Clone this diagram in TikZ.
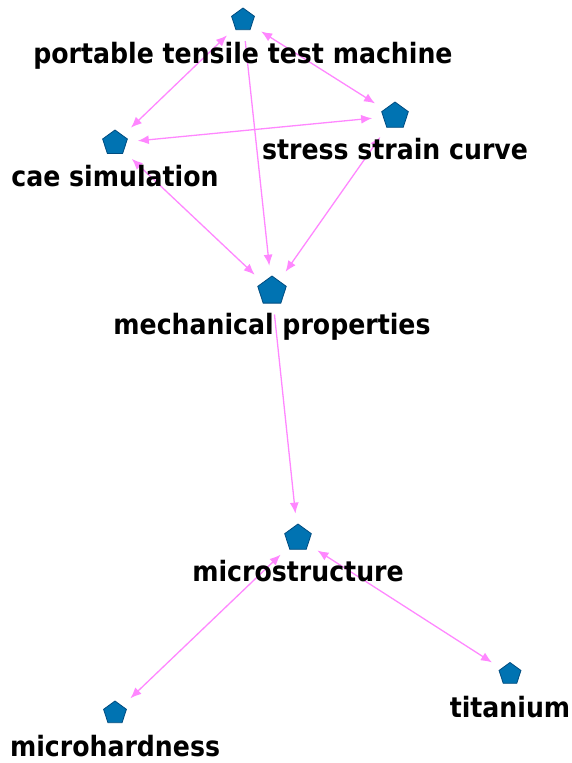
\documentclass[tikz,border=0pt]{standalone}
\usepackage{fontspec}
\setmainfont{DejaVu Sans Condensed}
\usepackage{tikz}
\usetikzlibrary{shapes.geometric,arrows.meta,positioning}
\definecolor{qqttbb}{rgb}{0.,0.45,0.7}
\definecolor{qqffoo}{rgb}{0.,0.3,0.5}
\definecolor{ffqqff}{rgb}{1.,0.53,1.}
\begin{document}
\begin{tikzpicture}[x=1pt,y=-1pt,
  kw/.style={regular polygon,regular polygon sides=5,fill=qqttbb,draw=qqffoo,line width=0.8pt,inner sep=0pt,minimum size=#1},
  lbl/.style={font=\fontsize{28}{30}\selectfont\bfseries,inner sep=0pt},
  link/.style={line width=1.3pt,color=ffqqff,shorten <=11pt,shorten >=11pt},
  tip/.style={-{Latex[length=11pt,width=9pt]}},
  both/.style={{Latex[length=11pt,width=9pt]}-{Latex[length=11pt,width=9pt]}}]
\useasboundingbox (0,0) rectangle (572,763);
%\draw [help lines] (0,0) grid[step=50pt] (572,763);
\node [kw=24pt] (ptt) at (243,20) {};
\node [kw=28pt] (ssc) at (395,116) {};
\node [kw=26pt] (cae) at (115,143) {};
\node [kw=30pt] (mech) at (272,291) {};
\node [kw=28pt] (micro) at (298,538) {};
\node [kw=24pt] (hard) at (115,713) {};
\node [kw=23pt] (ti) at (510,674) {};
% links
\draw [link,both] (ptt) -- (cae);
\draw [link,both] (ptt) -- (ssc);
\draw [link,both] (cae) -- (ssc);
\draw [link,tip] (ptt) -- (mech);
\draw [link,both] (cae) -- (mech);
\draw [link,both] (ssc) -- (mech);
\draw [link,tip] (mech) -- (micro);
\draw [link,both] (micro) -- (hard);
\draw [link,both] (micro) -- (ti);
% labels
\node [lbl,below=43pt of ptt.center,anchor=base] (pttlab) {portable tensile test machine};
\node [lbl,below=43pt of ssc.center,anchor=base] (ssclab) {stress strain curve};
\node [lbl,below=43pt of cae.center,anchor=base] (caelab) {cae simulation};
\node [lbl,below=43pt of mech.center,anchor=base] (mechlab) {mechanical properties};
\node [lbl,below=43pt of micro.center,anchor=base] (microlab) {microstructure};
\node [lbl,below=43pt of hard.center,anchor=base] (hardlab) {microhardness};
\node [lbl,below=43pt of ti.center,anchor=base] (tilab) {titanium};
\end{tikzpicture}
\end{document}
